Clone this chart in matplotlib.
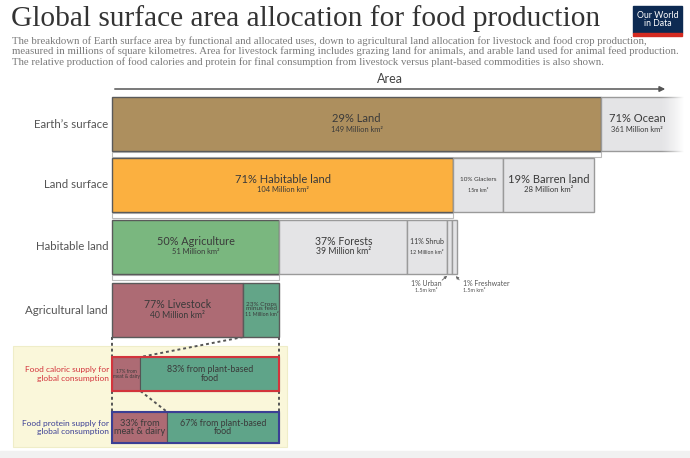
import numpy as np
import matplotlib.pyplot as plt
from matplotlib.patches import Rectangle

# areas in million km2
earth_names = ["29% Land", "71% Ocean"]
earth_areas = [149, 361]
earth_notes = ["149 Million km²", "361 Million km²"]

land_names = ["71% Habitable land", "10% Glaciers", "19% Barren land"]
land_areas = [104, 15, 28]
land_notes = ["104 Million km²", "15m km²", "28 Million km²"]

habitable_names = ["50% Agriculture", "37% Forests", "11% Shrub", "1% Urban", "1% Freshwater"]
habitable_areas = [51, 39, 12, 1.5, 1.5]
habitable_notes = ["51 Million km²", "39 Million km²", "12 Million km²", "1.5m km²", "1.5m km²"]

agri_names = ["77% Livestock", "23% Crops\nminus feed"]
agri_areas = [40, 11]
agri_notes = ["40 Million km²", "11 Million km²"]

# share of global supply, percent
calorie_names = ["17% from\nmeat & dairy", "83% from plant-based\nfood"]
calorie_share = [17, 83]
protein_names = ["33% from\nmeat & dairy", "67% from plant-based\nfood"]
protein_share = [33, 67]

row_labels = ["Earth\u2019s surface", "Land surface", "Habitable land", "Agricultural land"]

subtitle_lines = [
    "The breakdown of Earth surface area by functional and allocated uses, down to agricultural land allocation for livestock and food crop production,",
    "measured in millions of square kilometres. Area for livestock farming includes grazing land for animals, and arable land used for animal feed production.",
    "The relative production of food calories and protein for final consumption from livestock versus plant-based commodities is also shown.",
]

SANS = "Lato"
SERIF = "Liberation Serif"
DARK = "#3a3a3a"
GREY_FILL = "#e4e4e6"

W, H = 690, 458
X0 = 112            # pixel where 0 km2 sits
S = 489 / 149       # pixels per million km2


def px(p):
    """pixel x -> data x"""
    return (p - X0) / S


fig = plt.figure(figsize=(W / 100, H / 100), dpi=100)
ax = fig.add_axes([0, 0, 1, 1])
ax.set_xlim(px(0), px(W))
ax.set_ylim(H, 0)
ax.axis("off")

# header
ax.text(px(11), 19, "Global surface area allocation for food production", family=SERIF,
        fontsize=21.2, color="#333333", va="center", ha="left")
for k, line in enumerate(subtitle_lines):
    ax.text(px(12), 41 + k * 10.5, line, family=SERIF, fontsize=7.75, color="#7a7a7a",
            va="center", ha="left")

ax.add_patch(Rectangle((px(633), 6), 49 / S, 27, color="#0d2a52"))
ax.add_patch(Rectangle((px(633), 33), 49 / S, 3, color="#d42b21"))
ax.text(px(657.5), 19.5, "Our World\nin Data", family=SANS, fontsize=6.3, color="white",
        ha="center", va="center", linespacing=0.95)

# area arrow
ax.annotate("", xy=(px(668), 89), xytext=(0, 89),
            arrowprops=dict(arrowstyle="-|>", color="#555555", lw=1.1, mutation_scale=8))
ax.text(px(390), 79, "Area", family=SANS, fontsize=9, color="#444444", ha="center", va="center")

# rows of the breakdown: names, areas, notes, colours, top pixel, (name size, note size)
rows = [
    (earth_names, earth_areas, earth_notes, ["#ad8f5e", GREY_FILL], 97,
     [(8, 5.4), (8, 5.4)]),
    (land_names, land_areas, land_notes, ["#fbb040", GREY_FILL, GREY_FILL], 158,
     [(8, 5.4), (4.6, 3.8), (8, 5.6)]),
    (habitable_names, habitable_areas, habitable_notes,
     ["#7ab77f", GREY_FILL, GREY_FILL, GREY_FILL, GREY_FILL], 220,
     [(7.8, 5.4), (7.6, 6.2), (5, 3.8), (5, 4), (5, 4)]),
    (agri_names, agri_areas, agri_notes, ["#ad6b74", "#63a588"], 283,
     [(7.6, 6.2), (4.6, 3.8)]),
]
ROW_H = 54

for i, (names, areas, notes, colors, top, sizes) in enumerate(rows):
    lefts = np.concatenate([[0], np.cumsum(areas)[:-1]])
    cy = top + ROW_H / 2
    edges = ["#5a5a5a" if c != GREY_FILL else "#9a9a9a" for c in colors]
    ax.barh(cy, areas, left=lefts, height=ROW_H, color=colors, edgecolor=edges,
            linewidth=1, zorder=2)
    ax.text(px(108), cy, row_labels[i], family=SANS, fontsize=8.3, color="#555555",
            ha="right", va="center")
    for j, (name, note) in enumerate(zip(names, notes)):
        fs, ns = sizes[j]
        xc = lefts[j] + areas[j] / 2
        if i == 0 and j == 1:
            xc = px(637)        # ocean is cut at the edge
        if i == 2 and j >= 3:
            continue
        if "\n" in name:
            ax.text(xc, cy - 3.5, name, family=SANS, fontsize=fs, color=DARK, ha="center",
                    va="center", linespacing=0.9, zorder=4)
            ax.text(xc, cy + 4, note, family=SANS, fontsize=ns, color=DARK, ha="center",
                    va="center", zorder=4)
        else:
            ax.text(xc, cy - 5.5, name, family=SANS, fontsize=fs, color=DARK, ha="center",
                    va="center", zorder=4)
            ax.text(xc, cy + 5, note, family=SANS, fontsize=ns, color=DARK, ha="center",
                    va="center", zorder=4)
    # white strip below the part that is broken down further
    if i < 3:
        ax.add_patch(Rectangle((0, top + ROW_H + 0.5), areas[0], 5.5, facecolor="white",
                               edgecolor="#bbbbbb", linewidth=0.8, zorder=1))

# urban and freshwater callouts
hab_lefts = np.concatenate([[0], np.cumsum(habitable_areas)[:-1]])
hab_bottom = 220 + ROW_H
for j, tx, ha in [(3, 426, "center"), (4, 463, "left")]:
    xm = hab_lefts[j] + habitable_areas[j] / 2
    ax.annotate("", xy=(xm, hab_bottom), xytext=(px(tx + (14 if ha == "center" else -2)), 282),
                arrowprops=dict(arrowstyle="-|>", color="#666666", lw=0.6, mutation_scale=4))
    ax.text(px(tx), 283.5, habitable_names[j], family=SANS, fontsize=5, color="#555555",
            ha=ha, va="center")
    ax.text(px(tx), 291, habitable_notes[j], family=SANS, fontsize=3.9, color="#555555",
            ha=ha, va="center")

# ocean fade at the right edge
fade = np.ones((1, 60, 4))
fade[0, :, 3] = np.linspace(0, 1, 60) ** 1.3
ax.imshow(fade, extent=[px(660), px(684), 162, 92], aspect="auto", zorder=3)
ax.add_patch(Rectangle((px(684), 92), 10 / S, 70, color="white", zorder=3))
ax.set_xlim(px(0), px(W))
ax.set_ylim(H, 0)

# consumption panel
ax.add_patch(Rectangle((px(0), 451), W / S, 7, color="#f1f1f1", zorder=0))
ax.add_patch(Rectangle((px(13), 346), 274 / S, 101, facecolor="#faf7da",
                       edgecolor="#efedc8", linewidth=0.8, zorder=0))

agri_total = sum(agri_areas)
supply = [
    (calorie_names, calorie_share, 357, 34, "#d3343c",
     "Food caloric supply for\nglobal consumption"),
    (protein_names, protein_share, 412, 31, "#3b3f95",
     "Food protein supply for\nglobal consumption"),
]
for names, share, top, h, edge, label in supply:
    widths = np.array(share) / 100 * agri_total
    lefts = np.concatenate([[0], np.cumsum(widths)[:-1]])
    cy = top + h / 2
    ax.barh(cy, widths, left=lefts, height=h, color=["#ad6b74", "#5fa489"],
            edgecolor="#555555", linewidth=0.8, zorder=2)
    ax.add_patch(Rectangle((0, top), agri_total, h, fill=False, edgecolor=edge,
                           linewidth=1.5, zorder=3))
    ax.text(px(109), cy, label, family=SANS, fontsize=6.0, color=edge, ha="right",
            va="center", linespacing=1.3)
    for j, name in enumerate(names):
        fs = 3.4 if widths[j] < 10 else (6.6 if widths[j] < 20 else 6.4)
        ax.text(lefts[j] + widths[j] / 2, cy, name, family=SANS, fontsize=fs, color=DARK,
                ha="center", va="center", linespacing=0.95, zorder=4)

# dashed connectors between the livestock share and the supply bars
cal_meat = calorie_share[0] / 100 * agri_total
prot_meat = protein_share[0] / 100 * agri_total
agri_bottom = 283 + ROW_H
dash = dict(color="#555555", lw=1.4, ls=(0, (1.5, 1.5)), zorder=1)
for x in [0, agri_total]:
    ax.plot([x, x], [agri_bottom, 357], **dash)
    ax.plot([x, x], [391, 412], **dash)
ax.plot([agri_areas[0], cal_meat], [agri_bottom, 357], **dash)
ax.plot([cal_meat, prot_meat], [391, 412], **dash)

fig.savefig("out.png", dpi=100, facecolor="white")
